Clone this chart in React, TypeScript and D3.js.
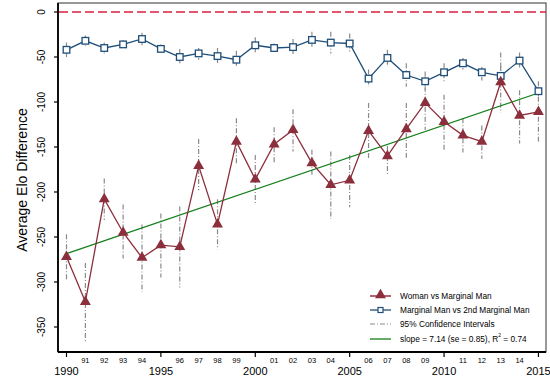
import React from "react";
import * as d3 from "d3";

const width = 550;
const height = 381;

// years and series
const years = d3.range(1990, 2016);
const womanVsMarginal = [
  -272, -322, -208, -245, -273, -259, -261, -171, -236, -144, -186, -147, -131,
  -168, -192, -187, -132, -160, -130, -101, -122, -137, -144, -78, -115, -111,
];
const womanLow = [
  -298, -366, -231, -274, -311, -295, -306, -198, -264, -170, -214, -167, -155,
  -183, -230, -217, -164, -181, -162, -131, -153, -156, -163, -112, -146, -144,
];
const womanHigh = [
  -247, -279, -185, -214, -236, -224, -216, -141, -208, -118, -159, -128, -108,
  -153, -155, -159, -101, -149, -101, -72, -92, -118, -126, -45, -87, -83,
];
const marginalVs2nd = [
  -42, -32, -40, -36, -30, -41, -50, -46, -49, -53, -37, -40, -39, -31, -34, -35,
  -74, -51, -70, -77, -67, -57, -67, -71, -54, -88,
];
const marginalLow = [
  -50, -38, -46, -40, -37, -46, -57, -53, -58, -61, -47, -46, -48, -39, -46, -44,
  -83, -61, -83, -88, -78, -64, -76, -82, -64, -98,
];
const marginalHigh = [
  -34, -26, -34, -31, -23, -36, -41, -40, -40, -43, -28, -35, -30, -22, -22, -24,
  -64, -42, -57, -66, -57, -51, -61, -60, -45, -77,
];
const fitSlope = 7.14;
const fitAt1990 = -268.5;

const majorYears = [1990, 1995, 2000, 2005, 2010, 2015];
const yTicks = [0, -50, -100, -150, -200, -250, -300, -350];
const legendLabels = [
  "Woman vs Marginal Man",
  "Marginal Man vs 2nd Marginal Man",
  "95% Confidence Intervals",
  "slope = 7.14 (se = 0.85), R",
];

const red = "#8c2f3c";
const blue = "#1f4e79";
const green = "#13801a";
const ciGray = "#8a8a8a";
const font = "'Liberation Sans', Arial, sans-serif";

const plot = { left: 58, right: 546, top: 3, bottom: 352 };

const x = d3.scaleLinear().domain([1989.55, 2015.4]).range([plot.left, plot.right]);
const y = d3.scaleLinear().domain([10, -377.8]).range([plot.top, plot.bottom]);

const tri = d3.symbol().type(d3.symbolTriangle).size(52);

const App = () => {
  const womanLine = d3
    .line<number>()
    .x((d, i) => x(years[i]))
    .y((d) => y(d))(womanVsMarginal);
  const marginalLine = d3
    .line<number>()
    .x((d, i) => x(years[i]))
    .y((d) => y(d))(marginalVs2nd);

  const lx = 370;
  const ly = [296, 310, 324, 339];

  return (
    <svg width={width} height={height} style={{ position: "absolute", left: 0, top: 0 }}>
      <rect width={width} height={height} fill="white" />
      {/* frame */}
      <rect
        x={plot.left}
        y={plot.top}
        width={plot.right - plot.left}
        height={plot.bottom - plot.top}
        fill="none"
        stroke="#333"
        strokeWidth={1}
      />
      <line x1={plot.left} x2={plot.left} y1={plot.top} y2={plot.bottom} stroke="black" strokeWidth={1.8} />
      <line x1={plot.left} x2={plot.right} y1={plot.bottom} y2={plot.bottom} stroke="black" strokeWidth={1.8} />

      {/* y axis */}
      {yTicks.map((t) => (
        <g key={t}>
          <line x1={plot.left - 4} x2={plot.left} y1={y(t)} y2={y(t)} stroke="black" strokeWidth={1.2} />
          <text
            transform={`translate(41,${y(t)}) rotate(-90)`}
            textAnchor="middle"
            dominantBaseline="central"
            fontFamily={font}
            fontSize={10}
          >
            {t}
          </text>
        </g>
      ))}
      <text
        transform={`translate(22,180) rotate(-90)`}
        textAnchor="middle"
        dominantBaseline="central"
        fontFamily={font}
        fontSize={14}
      >
        Average Elo Difference
      </text>

      {/* x axis */}
      {years.map((yr) =>
        majorYears.includes(yr) ? (
          <g key={yr}>
            <line x1={x(yr)} x2={x(yr)} y1={plot.bottom} y2={plot.bottom + 5} stroke="black" strokeWidth={1.2} />
            <text x={x(yr)} y={375} textAnchor="middle" fontFamily={font} fontSize={11}>
              {yr}
            </text>
          </g>
        ) : (
          <text key={yr} x={x(yr)} y={363} textAnchor="middle" fontFamily={font} fontSize={7.5}>
            {String(yr % 100).padStart(2, "0")}
          </text>
        )
      )}

      {/* zero reference */}
      <line
        x1={plot.left + 1}
        x2={plot.right}
        y1={y(0)}
        y2={y(0)}
        stroke="#dc1f3e"
        strokeWidth={1.3}
        strokeDasharray="9 4"
      />

      {/* confidence intervals */}
      {years.map((yr, i) => (
        <g key={"ci" + yr} stroke={ciGray} strokeWidth={1.2} strokeDasharray="5 2 1 2">
          <line x1={x(yr)} x2={x(yr)} y1={y(womanHigh[i])} y2={y(womanLow[i])} />
          <line x1={x(yr)} x2={x(yr)} y1={y(marginalHigh[i])} y2={y(marginalLow[i])} />
        </g>
      ))}

      {/* fitted trend */}
      <line
        x1={x(1990)}
        x2={x(2015)}
        y1={y(fitAt1990)}
        y2={y(fitAt1990 + fitSlope * 25)}
        stroke={green}
        strokeWidth={1.3}
      />

      {/* series */}
      <path d={marginalLine ?? ""} fill="none" stroke={blue} strokeWidth={1.3} />
      {marginalVs2nd.map((v, i) => (
        <rect
          key={"sq" + i}
          x={x(years[i]) - 3.3}
          y={y(v) - 3.3}
          width={6.6}
          height={6.6}
          fill="white"
          stroke={blue}
          strokeWidth={1.3}
        />
      ))}
      <path d={womanLine ?? ""} fill="none" stroke={red} strokeWidth={1.3} />
      {womanVsMarginal.map((v, i) => (
        <path key={"tr" + i} d={tri() ?? ""} transform={`translate(${x(years[i])},${y(v)})`} fill={red} />
      ))}

      {/* legend */}
      <g fontFamily={font} fontSize={8.3}>
        <line x1={lx} x2={lx + 21} y1={ly[0]} y2={ly[0]} stroke="#b0646e" strokeWidth={2} />
        <path d={tri() ?? ""} transform={`translate(${lx + 10.5},${ly[0] - 1})`} fill={red} />
        <line x1={lx} x2={lx + 21} y1={ly[1]} y2={ly[1]} stroke={blue} strokeWidth={1.3} />
        <rect x={lx + 8} y={ly[1] - 2.5} width={5} height={5} fill="white" stroke={blue} strokeWidth={1.2} />
        <line x1={lx} x2={lx + 21} y1={ly[2]} y2={ly[2]} stroke={ciGray} strokeWidth={1} strokeDasharray="5 2 1 2" />
        <line x1={lx} x2={lx + 21} y1={ly[3]} y2={ly[3]} stroke={green} strokeWidth={1.3} />
        {legendLabels.map((t, i) => (
          <text key={t} x={400} y={ly[i]} dominantBaseline="central">
            {t}
            {i === 3 ? (
              <>
                <tspan fontSize={5} dy={-4}>
                  2
                </tspan>
                <tspan dy={4}> = 0.74</tspan>
              </>
            ) : null}
          </text>
        ))}
      </g>
    </svg>
  );
};

export default App;
